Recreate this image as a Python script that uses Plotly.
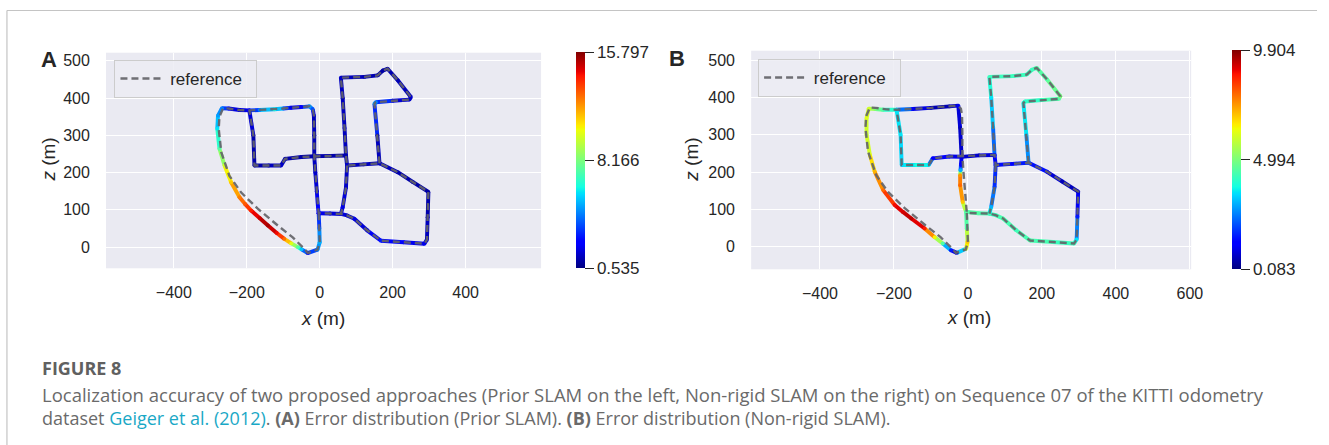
import plotly.graph_objects as go
from plotly.colors import sample_colorscale

# ---------------- data ----------------
# reference (ground truth) trajectory, metres; None separates pieces
ref_x = [-3, -1, 0, -6, -33, -42, -74, -115, -170, -216, -248, -270, -277, -275, -265,
         -250, -220, -193, -165, -124, -100, -79, -50, -28, -19, -16, -15, -15, -12, -8, -5, -3,
         28, 58, 75, 95, 130, 168, 230, 287, 294, 296, 298, 255, 214, 164, 120, 75, 72, 30, -15,
         -50, -95, -106, -140, -179, -182, -193, None,
         75, 72, 63, 58, None,
         164, 158, 150, 154, 200, 246, 250, 214, 186, 173, 159, 122, 58, 63, 68, 72]
ref_z = [91, 50, 13, -7, -16, -5, 26, 58, 103, 147, 192, 255, 318, 350, 373,
         372, 368, 367, 368, 370, 372, 374, 376, 378, 370, 353, 300, 244, 200, 150, 110, 91,
         90, 89, 85, 76, 45, 17, 13, 9, 20, 80, 148, 175, 201, 225, 222, 219, 246, 245, 244,
         242, 237, 219, 219, 219, 300, 367, None,
         219, 160, 107, 89, None,
         225, 300, 385, 389, 393, 396, 403, 448, 479, 474, 461, 457, 455, 400, 320, 246]

# Prior SLAM estimate (panel A) and its error (m)
est_a_x = [-3, -1, 0, -6, -33, -50, -60, -78, -97, -118, -142, -165, -188, -205, -220, -243, -261,
           -275, -281, -279, -268, -250, -220, -193, -165, -124, -100, -79, -50, -28, -19, -16, -15,
           -15, -12, -8, -5, -3, 28, 58, 75, 95, 130, 168, 230, 287, 294, 296, 298, 255, 214, 164,
           120, 75, 72, 30, -15, -50, -95, -106, -140, -179, -182, -193, None,
           75, 72, 63, 58, None,
           164, 158, 150, 154, 200, 246, 250, 214, 186, 173, 159, 122, 58, 63, 68, 72]
est_a_z = [91, 50, 13, -7, -16, -6, 0, 10, 22, 38, 58, 78, 98, 116, 134, 174, 219,
           264, 318, 353, 373, 372, 368, 367, 368, 370, 372, 374, 376, 378, 370, 353, 300,
           244, 200, 150, 110, 91, 90, 89, 85, 76, 45, 17, 13, 9, 20, 80, 148, 175, 201, 225,
           222, 219, 246, 245, 244, 242, 237, 219, 219, 219, 300, 367, None,
           219, 160, 107, 89, None,
           225, 300, 385, 389, 393, 396, 403, 448, 479, 474, 461, 457, 455, 400, 320, 246]
err_a = [2.4, 4.0, 5.1, 4.4, 2.4, 5.4, 7.4, 10.0, 12.7, 14.3, 15.3, 14.8, 14.0, 13.0, 12.4, 11.2, 9.7,
         7.4, 5.9, 4.8, 4.35, 2.2, 1.5, 2.2, 4.35, 6.3, 4.35, 1.9, 2.2, 4.8, 3.6, 1.5, 1.2,
         1.3, 1.5, 1.9, 2.2, 2.4, 1.5, 1.9, 1.5, 1.9, 1.5, 2.8, 2.2, 1.9, 1.5, 1.2, 1.05,
         1.05, 1.2, 1.5, 1.2, 1.5, 1.2, 1.05, 1.2, 1.05, 1.2, 1.5, 1.2, 1.05, 1.2, 2.2, None,
         1.5, 1.5, 1.9, 1.9, None,
         1.5, 1.2, 4.8, 4.35, 1.9, 1.5, 1.5, 1.2, 1.2, 1.05, 1.2, 1.2, 1.5, 1.2, 1.5, 1.2]

# Non-rigid SLAM estimate (panel B) and its error (m)
est_b_x = [-5, -3, -1, -5, -30, -46, -68, -90, -117, -153, -175, -198, -229, -252, -265, -274,
           -274, -268, -250, -230, -193, -150, -100, -50, -26, -21, -17, -19, -20, -21, -21, -14,
           -5, 28, 58, 75, 95, 130, 168, 230, 287, 294, 296, 298, 255, 214, 164, 120, 75, 72, 30,
           -17, -50, -95, -106, -140, -179, -182, -193, None,
           75, 72, 63, 58, None,
           164, 158, 150, 154, 200, 246, 250, 214, 186, 173, 159, 122, 58, 63, 68, 72]
est_b_z = [94, 49, 13, -5, -16, -9, 9, 26, 49, 76, 93, 112, 152, 201, 246, 300,
           345, 370, 369, 367, 367, 369, 372, 376, 378, 318, 241, 219, 205, 192, 165, 120,
           94, 90, 89, 85, 76, 45, 17, 13, 9, 20, 80, 148, 175, 201, 225, 222, 219, 246, 245,
           241, 242, 237, 219, 219, 219, 300, 367, None,
           219, 160, 107, 89, None,
           225, 300, 385, 389, 393, 396, 403, 448, 479, 474, 461, 457, 455, 400, 320, 246]
err_b = [4.5, 4.5, 6.96, 5.98, 0.57, 1.56, 4.5, 6.47, 8.73, 9.41, 9.2, 8.92, 7.94, 7.15, 6.27, 5.78,
         6.17, 5.98, 5.0, 4.5, 3.52, 1.26, 0.57, 0.48, 1.07, 0.57, 0.87, 1.26, 3.0, 7.45, 7.94, 6.96,
         4.5, 4.5, 4.21, 4.21, 4.5, 4.21, 4.5, 4.21, 4.21, 3.52, 1.56, 0.67, 0.57, 1.07, 1.85, 1.26,
         1.56, 1.07, 0.67, 0.87, 1.07, 1.26, 3.52, 3.8, 3.32, 3.52, 3.52, None,
         1.56, 1.85, 3.03, 4.21, None,
         2.05, 3.32, 3.8, 4.0, 4.21, 4.5, 5.0, 4.5, 4.5, 4.21, 4.21, 4.21, 4.21, 3.52, 3.03, 1.56]

cbar_a_vals = [0.535, 8.166, 15.797]
cbar_b_vals = [0.083, 4.994, 9.904]
x_ticks_a = [-400, -200, 0, 200, 400]
x_ticks_b = [-400, -200, 0, 200, 400, 600]
z_ticks = [0, 100, 200, 300, 400, 500]

# ---------------- styling ----------------
W, H = 1329, 445
JET = [[0.0, "rgb(0,0,128)"], [0.11, "rgb(0,0,255)"], [0.125, "rgb(0,0,255)"],
       [0.34, "rgb(0,219,255)"], [0.35, "rgb(0,229,247)"], [0.375, "rgb(21,255,226)"],
       [0.64, "rgb(239,255,8)"], [0.65, "rgb(247,245,0)"], [0.66, "rgb(255,236,0)"],
       [0.89, "rgb(255,19,0)"], [0.91, "rgb(232,0,0)"], [1.0, "rgb(128,0,0)"]]
FONT = "Liberation Sans"
TXT = "#262626"


def px(x):
    return x / W


def py(y):
    return 1 - y / H


fig = go.Figure()


def add_panel(xs, zs, es, cvals, xa, ya, cb_x, cb_top, cb_bot, legend_name):
    cmin, cmax = cvals[0], cvals[-1]
    for i in range(len(xs) - 1):
        if xs[i] is None or xs[i + 1] is None:
            continue
        t = ((es[i] + es[i + 1]) / 2 - cmin) / (cmax - cmin)
        t = min(max(t, 0), 1)
        c = sample_colorscale(JET, [t])[0]
        fig.add_trace(go.Scatter(x=[xs[i], xs[i + 1]], y=[zs[i], zs[i + 1]], mode="lines",
                                 line=dict(color=c, width=3.9), xaxis=xa, yaxis=ya,
                                 showlegend=False, hoverinfo="skip"))
    keep = [i for i in range(len(xs)) if xs[i] is not None]
    fig.add_trace(go.Scatter(
        x=[xs[i] for i in keep], y=[zs[i] for i in keep], mode="markers", xaxis=xa, yaxis=ya,
        showlegend=False, hoverinfo="skip",
        marker=dict(color=[es[i] for i in keep], colorscale=JET, cmin=cmin, cmax=cmax, size=3.9,
                    line=dict(width=0), showscale=True,
                    colorbar=dict(x=px(cb_x), xanchor="left", xref="paper", yref="paper",
                                  y=py((cb_top + cb_bot) / 2), yanchor="middle",
                                  len=(cb_bot - cb_top) / H, lenmode="fraction",
                                  thickness=9, thicknessmode="pixels", xpad=0, ypad=0,
                                  outlinewidth=0, tickvals=cvals,
                                  ticktext=[f"{v:.3f}" for v in cvals],
                                  ticks="outside", ticklen=9, tickwidth=1.2, tickcolor=TXT,
                                  tickfont=dict(size=17, color=TXT, family=FONT)))))
    fig.add_trace(go.Scatter(x=ref_x, y=ref_z, mode="lines", name="\u00a0reference\u00a0\u00a0",
                             xaxis=xa, yaxis=ya, legend=legend_name, hoverinfo="skip",
                             line=dict(color="rgba(100,100,105,0.92)", width=2.4, dash="7px,4px")))


add_panel(est_a_x, est_a_z, err_a, cbar_a_vals, "x", "y", 581.5, 52.7, 268.3, "legend")
add_panel(est_b_x, est_b_z, err_b, cbar_b_vals, "x2", "y2", 1243, 50.7, 269.3, "legend2")

axis_common = dict(showgrid=True, gridcolor="white", gridwidth=1.4, zeroline=False, showline=False,
                   ticks="outside", tickcolor="rgba(0,0,0,0)", tickfont=dict(size=16, color=TXT, family=FONT),
                   fixedrange=True)

fig.update_layout(
    width=W, height=H, margin=dict(l=0, r=0, t=0, b=0),
    paper_bgcolor="white", plot_bgcolor="#EAEAF2",
    font=dict(family=FONT, color=TXT),
    xaxis=dict(domain=[px(107), px(546)], range=[-586, 607], tickvals=x_ticks_a, ticklen=9,
               anchor="y", **axis_common),
    yaxis=dict(domain=[py(268.3), py(52.7)], range=[-57, 522], tickvals=z_ticks, ticklen=12,
               anchor="x", **axis_common),
    xaxis2=dict(domain=[px(758), px(1202)], range=[-586, 603.5], tickvals=x_ticks_b, ticklen=9,
                anchor="y2", **axis_common),
    yaxis2=dict(domain=[py(269.3), py(50.7)], range=[-60, 525], tickvals=z_ticks, ticklen=12,
                anchor="x2", **axis_common),
    legend=dict(x=px(115.5), y=py(60), xanchor="left", yanchor="top", bgcolor="rgba(236,236,243,0.85)",
                bordercolor="#CCCCCC", borderwidth=1, font=dict(size=17, color=TXT, family=FONT),
                itemwidth=40),
    legend2=dict(x=px(765), y=py(59), xanchor="left", yanchor="top", bgcolor="rgba(236,236,243,0.85)",
                 bordercolor="#CCCCCC", borderwidth=1, font=dict(size=17, color=TXT, family=FONT),
                 itemwidth=40),
    showlegend=True,
)

ann = []


def add_text(text, x, y, size, color=TXT, angle=0, xanchor="center", family=FONT):
    ann.append(dict(text=text, x=px(x), y=py(y), xref="paper", yref="paper", showarrow=False,
                    xanchor=xanchor, yanchor="middle", textangle=angle,
                    font=dict(size=size, color=color, family=family)))


add_text("<b>A</b>", 49, 59, 22)
add_text("<b>B</b>", 683, 58, 22)
add_text("<i>x</i> (m)", 326, 318, 19)
add_text("<i>x</i> (m)", 978, 317, 19)
add_text("<i>z</i> (m)", 48, 160, 19, angle=-90)
add_text("<i>z</i> (m)", 697, 160, 19, angle=-90)

CAP = "Open Sans"
add_text("<b>FIGURE 8</b>", 40, 368, 18, color="#606060", xanchor="left", family=CAP)
add_text("Localization accuracy of two proposed approaches (Prior SLAM on the left, Non-rigid SLAM on the right) "
         "on Sequence 07 of the KITTI odometry", 40, 394, 18.5, color="#6a6a6a", xanchor="left", family=CAP)
add_text("dataset <span style='color:#1AA8C6'>Geiger et al. (2012)</span>. <b>(A)</b> Error distribution "
         "(Prior SLAM). <b>(B)</b> Error distribution (Non-rigid SLAM).", 40, 418, 18, color="#6a6a6a",
         xanchor="left", family=CAP)

fig.update_layout(annotations=ann, shapes=[
    dict(type="line", xref="paper", yref="paper", x0=px(7), x1=1, y0=py(10.5), y1=py(10.5),
         line=dict(color="#C4C4C4", width=1.2)),
    dict(type="line", xref="paper", yref="paper", x0=px(7), x1=px(7), y0=py(10.5), y1=0,
         line=dict(color="#C4C4C4", width=1.2)),
])

fig.write_html("out.html", config={"displayModeBar": False},
               post_script="document.body.style.margin='0px';")
